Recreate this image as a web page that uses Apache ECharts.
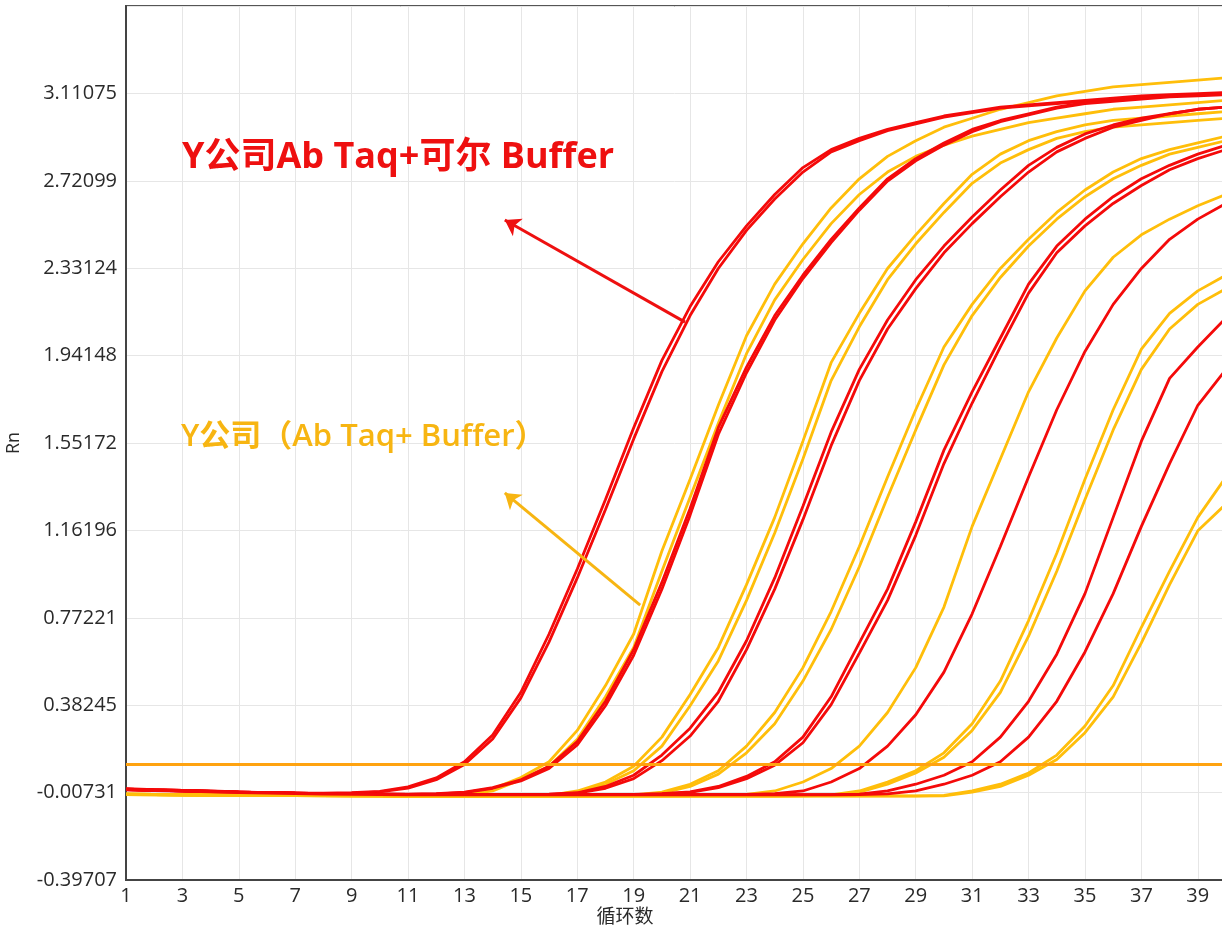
<!DOCTYPE html>
<html>
<head>
<meta charset="utf-8">
<script src="https://cdn.jsdelivr.net/npm/echarts@6/dist/echarts.min.js"></script>
<style>
html, body { margin: 0; padding: 0; background: #fff; }
#chart { width: 1222px; height: 935px; }
</style>
</head>
<body>
<div id="chart"></div>
<script>
// amplification plot, Rn per cycle
const cycles = [1, 2, 3, 4, 5, 6, 7, 8, 9, 10, 11, 12, 13, 14, 15, 16, 17, 18, 19, 20,
  21, 22, 23, 24, 25, 26, 27, 28, 29, 30, 31, 32, 33, 34, 35, 36, 37, 38, 39, 40];
const yTickLabels = ['-0.39707', '-0.00731', '0.38245', '0.77221', '1.16196', '1.55172',
  '1.94148', '2.33124', '2.72099', '3.11075', ''];
const threshold = 0.122;

// Y公司Ab Taq+可尔 Buffer (red)
const r1a = [0.010, 0.006, 0.003, 0.000, -0.004, -0.007, -0.009, -0.010, -0.008, -0.002,
  0.018, 0.058, 0.130, 0.250, 0.440, 0.700, 0.990, 1.300, 1.620, 1.920,
  2.160, 2.360, 2.520, 2.660, 2.780, 2.860, 2.910, 2.950, 2.980, 3.010,
  3.030, 3.050, 3.060, 3.070, 3.080, 3.090, 3.100, 3.105, 3.110, 3.115];
const r1b = [0.008, 0.005, 0.002, -0.001, -0.005, -0.008, -0.010, -0.011, -0.010, -0.004,
  0.013, 0.050, 0.118, 0.232, 0.415, 0.665, 0.950, 1.255, 1.570, 1.870,
  2.120, 2.330, 2.500, 2.640, 2.760, 2.850, 2.900, 2.945, 2.975, 3.005,
  3.025, 3.045, 3.055, 3.065, 3.075, 3.085, 3.095, 3.100, 3.105, 3.110];
const r2a = [0.008, 0.005, 0.002, -0.002, -0.005, -0.008, -0.010, -0.012, -0.013, -0.014,
  -0.014, -0.012, -0.005, 0.015, 0.050, 0.110, 0.220, 0.400, 0.630, 0.930,
  1.260, 1.620, 1.890, 2.120, 2.300, 2.460, 2.600, 2.730, 2.820, 2.890,
  2.950, 2.990, 3.020, 3.050, 3.070, 3.080, 3.090, 3.100, 3.105, 3.110];
const r2b = [0.006, 0.003, 0.000, -0.003, -0.006, -0.009, -0.011, -0.013, -0.014, -0.015,
  -0.015, -0.013, -0.007, 0.012, 0.045, 0.100, 0.205, 0.380, 0.605, 0.900,
  1.230, 1.590, 1.865, 2.100, 2.285, 2.445, 2.590, 2.720, 2.810, 2.880,
  2.940, 2.985, 3.015, 3.045, 3.065, 3.075, 3.085, 3.095, 3.100, 3.105];
const r3a = [0.008, 0.005, 0.002, -0.002, -0.005, -0.008, -0.010, -0.012, -0.013, -0.014,
  -0.015, -0.015, -0.015, -0.015, -0.015, -0.014, -0.008, 0.020, 0.070, 0.160,
  0.280, 0.440, 0.670, 0.950, 1.270, 1.600, 1.880, 2.100, 2.280, 2.430,
  2.560, 2.680, 2.790, 2.870, 2.930, 2.970, 3.000, 3.020, 3.040, 3.050];
const r3b = [0.007, 0.004, 0.001, -0.003, -0.006, -0.009, -0.011, -0.013, -0.014, -0.015,
  -0.016, -0.016, -0.016, -0.016, -0.016, -0.015, -0.010, 0.012, 0.055, 0.135,
  0.245, 0.400, 0.630, 0.900, 1.210, 1.540, 1.830, 2.060, 2.240, 2.400,
  2.530, 2.650, 2.760, 2.850, 2.910, 2.960, 2.990, 3.020, 3.040, 3.050];
const r4a = [0.007, 0.004, 0.001, -0.002, -0.005, -0.008, -0.010, -0.012, -0.013, -0.014,
  -0.015, -0.015, -0.016, -0.016, -0.016, -0.016, -0.016, -0.016, -0.015, -0.012,
  -0.004, 0.020, 0.065, 0.130, 0.240, 0.420, 0.660, 0.900, 1.200, 1.520,
  1.780, 2.020, 2.260, 2.430, 2.550, 2.650, 2.730, 2.790, 2.840, 2.880];
const r4b = [0.006, 0.003, 0.000, -0.003, -0.006, -0.009, -0.011, -0.013, -0.014, -0.015,
  -0.016, -0.016, -0.017, -0.017, -0.017, -0.017, -0.017, -0.017, -0.016, -0.013,
  -0.006, 0.015, 0.055, 0.115, 0.215, 0.385, 0.615, 0.850, 1.140, 1.460,
  1.730, 1.980, 2.220, 2.400, 2.520, 2.620, 2.700, 2.770, 2.820, 2.860];
const r5 = [0.007, 0.004, 0.001, -0.002, -0.005, -0.008, -0.010, -0.012, -0.013, -0.014,
  -0.015, -0.015, -0.016, -0.016, -0.016, -0.016, -0.016, -0.016, -0.016, -0.016,
  -0.016, -0.016, -0.015, -0.012, 0.000, 0.040, 0.100, 0.200, 0.340, 0.530,
  0.790, 1.090, 1.400, 1.700, 1.960, 2.170, 2.330, 2.460, 2.550, 2.620];
const r6a = [0.006, 0.003, 0.000, -0.003, -0.006, -0.009, -0.011, -0.013, -0.014, -0.015,
  -0.016, -0.016, -0.016, -0.016, -0.016, -0.016, -0.016, -0.016, -0.016, -0.016,
  -0.016, -0.016, -0.016, -0.016, -0.016, -0.016, -0.014, 0.000, 0.030, 0.070,
  0.130, 0.240, 0.400, 0.610, 0.880, 1.220, 1.560, 1.840, 1.980, 2.110];
const r6b = [0.005, 0.002, -0.001, -0.004, -0.007, -0.010, -0.012, -0.014, -0.015, -0.016,
  -0.017, -0.017, -0.017, -0.017, -0.017, -0.017, -0.017, -0.017, -0.017, -0.017,
  -0.017, -0.017, -0.017, -0.017, -0.017, -0.017, -0.016, -0.013, 0.000, 0.030,
  0.070, 0.130, 0.240, 0.400, 0.620, 0.880, 1.180, 1.460, 1.720, 1.880];

// Y公司（Ab Taq+ Buffer） (yellow)
const y1a = [-0.014, -0.015, -0.016, -0.017, -0.018, -0.019, -0.020, -0.020, -0.021, -0.021,
  -0.021, -0.020, -0.015, 0.010, 0.060, 0.130, 0.270, 0.470, 0.700, 1.070,
  1.390, 1.720, 2.030, 2.260, 2.440, 2.600, 2.730, 2.830, 2.900, 2.960,
  3.000, 3.040, 3.070, 3.100, 3.120, 3.140, 3.150, 3.160, 3.170, 3.180];
const y1b = [-0.016, -0.017, -0.018, -0.019, -0.020, -0.021, -0.021, -0.022, -0.022, -0.022,
  -0.022, -0.021, -0.017, 0.000, 0.050, 0.110, 0.230, 0.420, 0.640, 0.980,
  1.310, 1.640, 1.950, 2.190, 2.370, 2.530, 2.660, 2.760, 2.830, 2.880,
  2.920, 2.950, 2.980, 3.000, 3.020, 3.040, 3.050, 3.060, 3.070, 3.080];
const y2a = [-0.015, -0.016, -0.017, -0.018, -0.019, -0.020, -0.020, -0.021, -0.021, -0.022,
  -0.022, -0.022, -0.022, -0.022, -0.021, -0.020, 0.000, 0.040, 0.110, 0.240,
  0.430, 0.640, 0.920, 1.220, 1.560, 1.910, 2.130, 2.330, 2.480, 2.620,
  2.750, 2.840, 2.900, 2.940, 2.970, 2.990, 3.000, 3.010, 3.020, 3.030];
const y2b = [-0.016, -0.017, -0.018, -0.019, -0.020, -0.021, -0.021, -0.022, -0.022, -0.023,
  -0.023, -0.023, -0.023, -0.023, -0.022, -0.021, -0.005, 0.030, 0.090, 0.200,
  0.380, 0.580, 0.850, 1.150, 1.480, 1.830, 2.070, 2.280, 2.440, 2.580,
  2.710, 2.800, 2.860, 2.910, 2.940, 2.960, 2.970, 2.980, 2.990, 3.000];
const y3a = [-0.014, -0.015, -0.016, -0.017, -0.018, -0.019, -0.020, -0.020, -0.021, -0.021,
  -0.022, -0.022, -0.022, -0.022, -0.022, -0.022, -0.022, -0.021, -0.018, -0.005,
  0.030, 0.090, 0.200, 0.350, 0.550, 0.800, 1.090, 1.400, 1.700, 1.980,
  2.170, 2.330, 2.460, 2.580, 2.680, 2.760, 2.820, 2.860, 2.890, 2.920];
const y3b = [-0.015, -0.016, -0.017, -0.018, -0.019, -0.020, -0.021, -0.021, -0.022, -0.022,
  -0.023, -0.023, -0.023, -0.023, -0.023, -0.023, -0.023, -0.022, -0.020, -0.010,
  0.020, 0.075, 0.170, 0.300, 0.490, 0.720, 1.000, 1.310, 1.610, 1.900,
  2.120, 2.290, 2.430, 2.550, 2.650, 2.730, 2.790, 2.840, 2.870, 2.900];
const y4 = [-0.014, -0.015, -0.016, -0.017, -0.018, -0.019, -0.020, -0.020, -0.021, -0.021,
  -0.022, -0.022, -0.022, -0.022, -0.022, -0.022, -0.022, -0.022, -0.022, -0.022,
  -0.021, -0.020, -0.015, 0.000, 0.040, 0.100, 0.200, 0.350, 0.550, 0.820,
  1.180, 1.480, 1.780, 2.020, 2.230, 2.380, 2.480, 2.550, 2.610, 2.660];
const y5a = [-0.014, -0.015, -0.016, -0.017, -0.018, -0.019, -0.020, -0.020, -0.021, -0.021,
  -0.022, -0.022, -0.022, -0.022, -0.022, -0.022, -0.022, -0.022, -0.022, -0.022,
  -0.022, -0.022, -0.022, -0.022, -0.021, -0.018, 0.000, 0.040, 0.090, 0.170,
  0.300, 0.490, 0.760, 1.060, 1.390, 1.700, 1.970, 2.130, 2.230, 2.300];
const y5b = [-0.015, -0.016, -0.017, -0.018, -0.019, -0.020, -0.021, -0.021, -0.022, -0.022,
  -0.023, -0.023, -0.023, -0.023, -0.023, -0.023, -0.023, -0.023, -0.023, -0.023,
  -0.023, -0.023, -0.023, -0.023, -0.022, -0.020, -0.005, 0.030, 0.080, 0.150,
  0.270, 0.440, 0.690, 0.980, 1.300, 1.610, 1.880, 2.060, 2.170, 2.240];
const y6a = [-0.014, -0.015, -0.016, -0.017, -0.018, -0.019, -0.020, -0.020, -0.021, -0.021,
  -0.022, -0.022, -0.022, -0.022, -0.022, -0.022, -0.022, -0.022, -0.022, -0.022,
  -0.022, -0.022, -0.022, -0.022, -0.022, -0.022, -0.022, -0.022, -0.022, -0.020,
  0.000, 0.030, 0.080, 0.160, 0.290, 0.470, 0.730, 0.980, 1.220, 1.400];
const y6b = [-0.015, -0.016, -0.017, -0.018, -0.019, -0.020, -0.021, -0.021, -0.022, -0.022,
  -0.023, -0.023, -0.023, -0.023, -0.023, -0.023, -0.023, -0.023, -0.023, -0.023,
  -0.023, -0.023, -0.023, -0.023, -0.023, -0.023, -0.023, -0.023, -0.023, -0.022,
  -0.005, 0.020, 0.070, 0.140, 0.260, 0.420, 0.660, 0.920, 1.160, 1.280];

const redCurves = [r1a, r1b, r2a, r2b, r3a, r3b, r4a, r4b, r5, r6a, r6b];
const yellowCurves = [y1a, y1b, y2a, y2b, y3a, y3b, y4, y5a, y5b, y6a, y6b];

// arrows: [tail cycle, tail Rn, head cycle, head Rn]
const redArrow = [20.82, 2.091, 14.43, 2.546];
const yellowArrow = [19.23, 0.829, 14.43, 1.329];

const RED = '#F40A0A';
const YELLOW = '#FFBE0A';
const ORANGE = '#FFA310';
const LABEL_FONT = '"Open Sans", "Noto Sans CJK SC"';

const chart = echarts.init(document.getElementById('chart'));

function curve(vals, color) {
    return {
        type: 'line',
        data: vals.map((v, i) => [cycles[i], v]),
        showSymbol: false,
        smooth: false,
        silent: true,
        lineStyle: { color: color, width: 2.8 },
        z: 3
    };
}

function arrow(a, color) {
    return {
        type: 'line',
        data: [],
        silent: true,
        markLine: {
            silent: true,
            animation: false,
            symbol: ['none', 'arrow'],
            symbolSize: 15,
            label: { show: false },
            lineStyle: { color: color, width: 3, type: 'solid' },
            data: [[{ coord: [a[0], a[1]] }, { coord: [a[2], a[3]] }]]
        },
        z: 5
    };
}

const series = [];
yellowCurves.forEach((c, k) => {
    series.push(curve(c, YELLOW));
    if (redCurves[k]) series.push(curve(redCurves[k], RED));
});
series.push({
    type: 'line',
    data: [],
    markLine: {
        silent: true,
        animation: false,
        symbol: 'none',
        label: { show: false },
        lineStyle: { color: ORANGE, width: 3, type: 'solid' },
        data: [{ yAxis: threshold }]
    },
    z: 4
});
series.push(arrow(redArrow, '#EE1010'));
series.push(arrow(yellowArrow, '#F7B512'));

var option = {
    animation: false,
    backgroundColor: '#fff',
    grid: {
        left: 126,
        right: -4,
        top: 6,
        bottom: 55,
        outerBoundsMode: 'none',
        containLabel: false,
        show: true,
        borderColor: '#555',
        borderWidth: 2
    },
    xAxis: {
        type: 'value',
        min: 1,
        max: 40,
        interval: 2,
        axisLine: { show: true, onZero: false, lineStyle: { color: '#444', width: 2 } },
        axisTick: { show: false },
        axisLabel: {
            color: '#2a2a2a',
            fontSize: 20,
            fontFamily: LABEL_FONT,
            margin: 6,
            showMaxLabel: false
        },
        splitLine: { show: true, lineStyle: { color: '#e6e6e6', width: 1 } }
    },
    yAxis: {
        type: 'value',
        min: -0.39707,
        max: 3.50051,
        interval: 0.389758,
        name: 'Rn',
        nameLocation: 'middle',
        nameRotate: 90,
        nameGap: 103,
        nameTextStyle: { color: '#2a2a2a', fontSize: 18, fontFamily: LABEL_FONT },
        axisLine: { show: true, onZero: false, lineStyle: { color: '#444', width: 2 } },
        axisTick: { show: false },
        axisLabel: {
            color: '#2a2a2a',
            fontSize: 20,
            fontFamily: LABEL_FONT,
            margin: 9,
            showMaxLabel: false,
            formatter: (v, i) => yTickLabels[i]
        },
        splitLine: { show: true, lineStyle: { color: '#e6e6e6', width: 1 } }
    },
    graphic: [
        {
            type: 'text',
            style: {
                x: 182, y: 158,
                text: 'Y公司Ab Taq+可尔 Buffer',
                fill: '#EE1010',
                font: 'bold 36px "Open Sans", "Noto Sans CJK SC"',
                verticalAlign: 'middle'
            },
            z: 10
        },
        {
            type: 'text',
            style: {
                x: 181, y: 437,
                text: 'Y公司（Ab Taq+ Buffer）',
                fill: '#F7B512',
                font: '600 31px "Open Sans", "Noto Sans CJK SC"',
                verticalAlign: 'middle'
            },
            z: 10
        },
        {
            type: 'text',
            style: {
                x: 625, y: 916,
                text: '循环数',
                fill: '#2a2a2a',
                font: '19px "Noto Sans CJK SC"',
                align: 'center',
                verticalAlign: 'middle'
            }
        }
    ],
    series: series
};
chart.setOption(option);
</script>
</body>
</html>
